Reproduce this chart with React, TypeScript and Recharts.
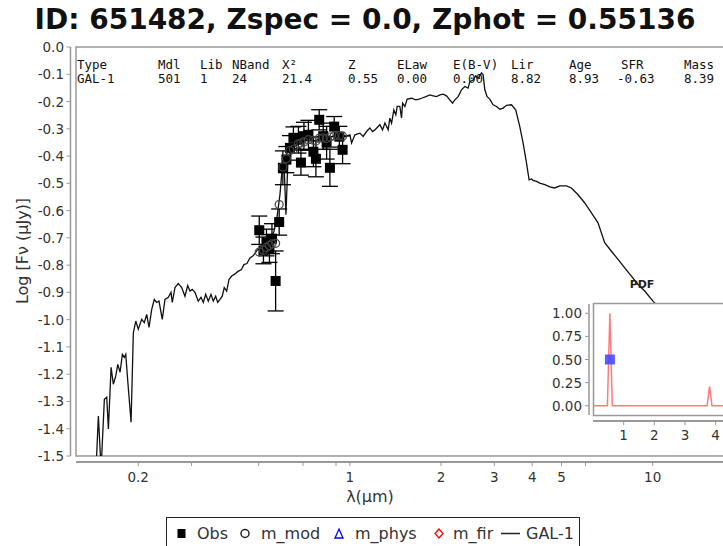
import React from "react";
import {
  ComposedChart,
  Line,
  Scatter,
  XAxis,
  YAxis,
  ErrorBar,
  Customized,
} from "recharts";

// best-fit template spectrum (GAL-1), wavelength in microns, log flux in uJy
const specLam = [
  0.1451, 0.1477, 0.1508, 0.1546, 0.1574, 0.1594, 0.1627, 0.1655, 0.1686, 0.1712,
  0.1742, 0.1773, 0.18, 0.1819, 0.1847, 0.1894, 0.1927, 0.1963, 0.2001, 0.2053,
  0.2094, 0.2133, 0.2171, 0.2216, 0.226, 0.2301, 0.2342, 0.2401, 0.2451, 0.2514,
  0.2566, 0.2591, 0.2645, 0.2712, 0.2783, 0.2853, 0.2913, 0.2964, 0.3016, 0.3079,
  0.3157, 0.3223, 0.328, 0.3341, 0.3407, 0.3478, 0.3539, 0.3604, 0.366, 0.3724,
  0.3789, 0.3847, 0.3918, 0.3988, 0.407, 0.4151, 0.427, 0.4385, 0.4468, 0.4571,
  0.4677, 0.4802, 0.4932, 0.5084, 0.5242, 0.5445, 0.5614, 0.5742, 0.5875, 0.5965,
  0.6057, 0.615, 0.6244, 0.6431, 0.6684, 0.6997, 0.7324, 0.7666, 0.8024, 0.8397,
  0.879, 0.906, 0.9339, 0.9627, 1.0, 1.013, 1.039, 1.079, 1.106, 1.135,
  1.164, 1.188, 1.209, 1.256, 1.282, 1.305, 1.338, 1.355, 1.373, 1.397,
  1.418, 1.433, 1.462, 1.481, 1.493, 1.519, 1.546, 1.598, 1.651, 1.693,
  1.724, 1.782, 1.837, 1.883, 1.932, 1.982, 2.032, 2.085, 2.138, 2.183,
  2.221, 2.278, 2.337, 2.396, 2.457, 2.489, 2.552, 2.605, 2.651, 2.721,
  2.754, 2.79, 2.839, 2.897, 2.971, 3.05, 3.126, 3.206, 3.29, 3.418,
  3.531, 3.64, 3.732, 3.831, 3.907, 3.979, 4.027, 4.133, 4.238, 4.402,
  4.572, 4.749, 4.933, 5.19, 5.391, 5.669, 5.965, 6.276, 6.599, 6.771,
  6.943, 7.306, 7.683, 8.084, 8.504, 8.943, 9.41, 10.02, 12.28, 17.02,
];
const specFlux = [
  -1.548, -1.353, -1.548, -1.292, -1.284, -1.401, -1.175, -1.237, -1.206, -1.164,
  -1.193, -1.127, -1.138, -1.127, -1.225, -1.376, -1.048, -1.005, -1.035, -0.999,
  -1.011, -0.981, -1.028, -0.962, -0.926, -0.937, -0.932, -0.999, -0.926, -0.918,
  -0.9, -0.937, -0.882, -0.867, -0.882, -0.914, -0.875, -0.895, -0.889, -0.9,
  -0.932, -0.918, -0.937, -0.907, -0.932, -0.907, -0.932, -0.914, -0.937, -0.926,
  -0.914, -0.882, -0.895, -0.853, -0.84, -0.834, -0.823, -0.816, -0.798, -0.794,
  -0.774, -0.765, -0.746, -0.735, -0.724, -0.706, -0.677, -0.626, -0.542, -0.457,
  -0.421, -0.615, -0.413, -0.377, -0.359, -0.348, -0.34, -0.344, -0.333, -0.337,
  -0.326, -0.333, -0.322, -0.329, -0.322, -0.352, -0.322, -0.316, -0.328, -0.31,
  -0.297, -0.31, -0.304, -0.285, -0.304, -0.279, -0.304, -0.261, -0.279, -0.231,
  -0.249, -0.218, -0.218, -0.26, -0.206, -0.218, -0.191, -0.188, -0.194, -0.191,
  -0.188, -0.182, -0.176, -0.179, -0.182, -0.176, -0.173, -0.179, -0.194, -0.206,
  -0.194, -0.182, -0.157, -0.145, -0.151, -0.127, -0.121, -0.106, -0.115, -0.095,
  -0.102, -0.157, -0.182, -0.191, -0.212, -0.218, -0.228, -0.224, -0.214, -0.212,
  -0.231, -0.292, -0.352, -0.426, -0.487, -0.484, -0.489, -0.493, -0.499, -0.505,
  -0.513, -0.517, -0.509, -0.509, -0.517, -0.542, -0.572, -0.608, -0.645, -0.682,
  -0.718, -0.749, -0.779, -0.81, -0.84, -0.871, -0.895, -0.932, -1.035, -1.182,
];

// observed photometry (24 bands) and the model flux in each band
const obsLam = [
  0.502, 0.5182, 0.5302, 0.5424, 0.5529, 0.5685, 0.5841, 0.6008, 0.6171, 0.6339,
  0.6509, 0.6761, 0.6892, 0.705, 0.7295, 0.7578, 0.7723, 0.792, 0.8164, 0.8377,
  0.859, 0.8875, 0.9232, 0.946,
];
const obsFlux = [
  -0.672, -0.746, -0.717, -0.739, -0.703, -0.858, -0.642, -0.443, -0.413, -0.37,
  -0.333, -0.34, -0.424, -0.327, -0.322, -0.384, -0.41, -0.267, -0.327, -0.351,
  -0.443, -0.292, -0.329, -0.377,
];
const obsErr = [
  0.052, 0.049, 0.049, 0.051, 0.055, 0.11, 0.048, 0.062, 0.048, 0.045,
  0.04, 0.049, 0.046, 0.051, 0.053, 0.055, 0.066, 0.037, 0.048, 0.06,
  0.068, 0.037, 0.038, 0.051,
];
const modFlux = [
  -0.752, -0.745, -0.735, -0.728, -0.722, -0.72, -0.578, -0.44, -0.41, -0.38,
  -0.375, -0.355, -0.352, -0.348, -0.34, -0.342, -0.345, -0.335, -0.333, -0.336,
  -0.33, -0.326, -0.325, -0.327,
];

// photo-z probability distribution
const pdfZ = [0, 0.47, 0.55, 0.63, 3.72, 3.8, 3.88, 6];
const pdfP = [0, 0, 1.0, 0, 0, 0.21, 0, 0];
const zPhot = 0.55136;

const xTicks = [0.2, 0.3, 0.5, 0.7, 0.9, 1, 2, 3, 4, 5, 6, 10];
const xLabels = [0.2, 1, 2, 3, 4, 5, 10];
const yTicks = [0, -0.1, -0.2, -0.3, -0.4, -0.5, -0.6, -0.7, -0.8, -0.9, -1.0, -1.1, -1.2, -1.3, -1.4, -1.5];
const pdfXTicks = [1, 2, 3, 4, 5];
const pdfYTicks = [0, 0.25, 0.5, 0.75, 1];

const tableHead = ["Type", "Mdl", "Lib", "NBand", "X²", "Z", "ELaw", "E(B-V)", "Lir", "Age", "SFR", "Mass"];
const tableVals = ["GAL-1", "501", "1", "24", "21.4", "0.55", "0.00", "0.00", "8.82", "8.93", "-0.63", "8.39"];
const tableCols = [77, 158, 200, 232, 282, 348, 397, 453, 511, 569, 621, 684];
const tableValCols = [77, 158, 200, 232, 282, 348, 397, 453, 511, 569, 617, 684];

const SANS = "'DejaVu Sans', sans-serif";
const MONO = "'DejaVu Sans Mono', monospace";
const AXIS = "#999";
const TXT = "#333";

// main plot geometry
const PL = 76;
const PT = 47;
const PR = 730;
const PB = 456;
const X_AXIS_Y = 462;
const Y_AXIS_X = 70.5;

const spectrum = specLam.map((lam, i) => ({ lam, f: specFlux[i] }));
const observed = obsLam.map((lam, i) => ({ lam, f: obsFlux[i], err: obsErr[i] }));
const modelPts = obsLam.map((lam, i) => ({ lam, f: modFlux[i] }));
const pdf = pdfZ.map((z, i) => ({ z, p: pdfP[i] }));
const pdfMark = [{ z: zPhot, p: 0.5 }];

const XTick = (props: any) => {
  const { x, payload } = props;
  const v = payload.value;
  return (
    <g>
      <line x1={x} x2={x} y1={X_AXIS_Y} y2={X_AXIS_Y + 4} stroke={AXIS} />
      {xLabels.includes(v) && (
        <text x={x} y={482} textAnchor="middle" fontSize={13.5} fill={TXT} fontFamily={SANS}>
          {v}
        </text>
      )}
    </g>
  );
};

const YTick = (props: any) => {
  const { y, payload } = props;
  return (
    <g>
      <line x1={Y_AXIS_X - 4} x2={Y_AXIS_X} y1={y} y2={y} stroke={AXIS} />
      <text x={64} y={y + 5} textAnchor="end" fontSize={13.5} fill={TXT} fontFamily={SANS}>
        {payload.value.toFixed(1)}
      </text>
    </g>
  );
};

const MainFrame = () => (
  <g>
    <rect x={PL} y={PT} width={PR - PL} height={PB - PT} fill="none" stroke={AXIS} strokeWidth={1.5} />
    <line x1={Y_AXIS_X} x2={Y_AXIS_X} y1={PT} y2={PB} stroke={AXIS} strokeWidth={1.5} />
    <line x1={PL} x2={PR} y1={X_AXIS_Y} y2={X_AXIS_Y} stroke={AXIS} strokeWidth={2} />
    <text
      x={22}
      y={251}
      transform="rotate(-90 22 251)"
      textAnchor="middle"
      dominantBaseline="central"
      fontSize={16}
      fill={TXT}
      fontFamily={SANS}
    >
      Log [Fν (μJy)]
    </text>
    <text x={370} y={502} textAnchor="middle" fontSize={16} fill={TXT} fontFamily={SANS}>
      λ(μm)
    </text>
  </g>
);

const ObsSquare = (props: any) => (
  <rect x={props.cx - 5} y={props.cy - 5} width={10} height={10} fill="#000" />
);

const ModCircle = (props: any) => (
  <circle cx={props.cx} cy={props.cy} r={4} fill="none" stroke="#444" strokeWidth={1.2} />
);

// inset geometry (relative to the inset box at 530,270)
const IL = 63;
const IT = 34;
const IR = 247;
const IB = 145;

const PdfXTick = (props: any) => {
  const { x, payload } = props;
  return (
    <g>
      <line x1={x} x2={x} y1={151} y2={155} stroke={AXIS} />
      <text x={x} y={170} textAnchor="middle" fontSize={13.5} fill={TXT} fontFamily={SANS}>
        {payload.value}
      </text>
    </g>
  );
};

const PdfYTick = (props: any) => {
  const { y, payload } = props;
  return (
    <g>
      <line x1={55} x2={59} y1={y} y2={y} stroke={AXIS} />
      <text x={52} y={y + 5} textAnchor="end" fontSize={13.5} fill={TXT} fontFamily={SANS}>
        {payload.value.toFixed(2)}
      </text>
    </g>
  );
};

const PdfFrame = () => (
  <g>
    <rect x={IL + 0.5} y={IT - 0.5} width={300} height={IB - IT + 1} fill="#fff" stroke={AXIS} strokeWidth={1.5} />
    <line x1={59} x2={59} y1={IT} y2={IB} stroke={AXIS} strokeWidth={1.5} />
    <line x1={IL} x2={300} y1={151} y2={151} stroke={AXIS} strokeWidth={2} />
    <text x={112} y={17.5} textAnchor="middle" fontSize={11} fontWeight="bold" fill="#222" fontFamily={SANS}>
      PDF
    </text>
  </g>
);

const PdfMarker = (props: any) => (
  <rect x={props.cx - 5} y={props.cy - 5} width={10} height={10} fill="#4a4aff" fillOpacity={0.9} />
);

export default function App() {
  return (
    <div
      style={{
        position: "absolute",
        left: 0,
        top: 0,
        width: 723,
        height: 546,
        overflow: "hidden",
        background: "#fff",
      }}
    >
      <div style={{ position: "absolute", left: 0, top: 0 }}>
        <ComposedChart width={740} height={546} margin={{ top: PT, right: 740 - PR, bottom: 60, left: 16 }}>
          <Customized component={<MainFrame />} />
          <XAxis
            dataKey="lam"
            type="number"
            scale="log"
            domain={[0.1246, 18]}
            allowDataOverflow
            ticks={xTicks}
            interval={0}
            height={30}
            axisLine={false}
            tickLine={false}
            tick={XTick}
          />
          <YAxis
            dataKey="f"
            type="number"
            domain={[-1.5, 0]}
            allowDataOverflow
            ticks={yTicks}
            interval={0}
            width={60}
            axisLine={false}
            tickLine={false}
            tick={YTick}
          />
          <Line
            data={spectrum}
            dataKey="f"
            type="linear"
            stroke="#111"
            strokeWidth={1.3}
            dot={false}
            isAnimationActive={false}
          />
          <Scatter data={observed} dataKey="f" shape={ObsSquare} isAnimationActive={false}>
            <ErrorBar dataKey="err" direction="y" width={8} stroke="#000" strokeWidth={1.3} />
          </Scatter>
          <Scatter data={modelPts} dataKey="f" shape={ModCircle} isAnimationActive={false} />
        </ComposedChart>
      </div>

      <svg
        width={723}
        height={100}
        style={{ position: "absolute", left: 0, top: 0, pointerEvents: "none" }}
      >
        <text x={365} y={29} textAnchor="middle" fontSize={28} fontWeight="bold" fill="#111" fontFamily={SANS}>
          ID: 651482, Zspec = 0.0, Zphot = 0.55136
        </text>
        {tableHead.map((h, i) => (
          <text key={h} x={tableCols[i]} y={69} fontSize={12.5} fill="#111" fontFamily={MONO}>
            {h}
          </text>
        ))}
        {tableVals.map((v, i) => (
          <text key={i} x={tableValCols[i]} y={83} fontSize={12.5} fill="#111" fontFamily={MONO}>
            {v}
          </text>
        ))}
      </svg>

      <div style={{ position: "absolute", left: 530, top: 270 }}>
        <ComposedChart width={260} height={180} margin={{ top: IT, right: 260 - IR, bottom: 10, left: 8 }}>
          <Customized component={<PdfFrame />} />
          <XAxis
            dataKey="z"
            type="number"
            domain={[0, 6]}
            ticks={pdfXTicks}
            interval={0}
            height={25}
            axisLine={false}
            tickLine={false}
            tick={PdfXTick}
          />
          <YAxis
            dataKey="p"
            type="number"
            domain={[-0.1, 1.1]}
            ticks={pdfYTicks}
            interval={0}
            width={55}
            axisLine={false}
            tickLine={false}
            tick={PdfYTick}
          />
          <Line
            data={pdf}
            dataKey="p"
            type="linear"
            stroke="#ff7b7b"
            strokeWidth={1.5}
            dot={false}
            isAnimationActive={false}
          />
          <Scatter data={pdfMark} dataKey="p" shape={PdfMarker} isAnimationActive={false} />
        </ComposedChart>
      </div>

      <div
        style={{
          position: "absolute",
          left: 166,
          top: 517,
          width: 412,
          height: 34,
          border: "1px solid #222",
          background: "#fff",
        }}
      >
        <svg width={412} height={34}>
          <g fontFamily={SANS} fontSize={16} fill={TXT}>
            <rect x={10.5} y={11} width={8} height={9} fill="#000" />
            <text x={30} y={21}>Obs</text>
            <circle cx={78} cy={15.5} r={4} fill="none" stroke="#222" strokeWidth={1.5} />
            <text x={94} y={21}>m_mod</text>
            <polygon points="172,11 176,20 168,20" fill="none" stroke="#0000ff" strokeWidth={1.3} />
            <text x={188} y={21}>m_phys</text>
            <polygon points="272,11 276,15.5 272,20 268,15.5" fill="none" stroke="#ff0000" strokeWidth={1.3} />
            <text x={286} y={21}>m_fir</text>
            <line x1={334} x2={353} y1={15.5} y2={15.5} stroke="#222" strokeWidth={1.5} />
            <text x={359} y={21}>GAL-1</text>
          </g>
        </svg>
      </div>
    </div>
  );
}
